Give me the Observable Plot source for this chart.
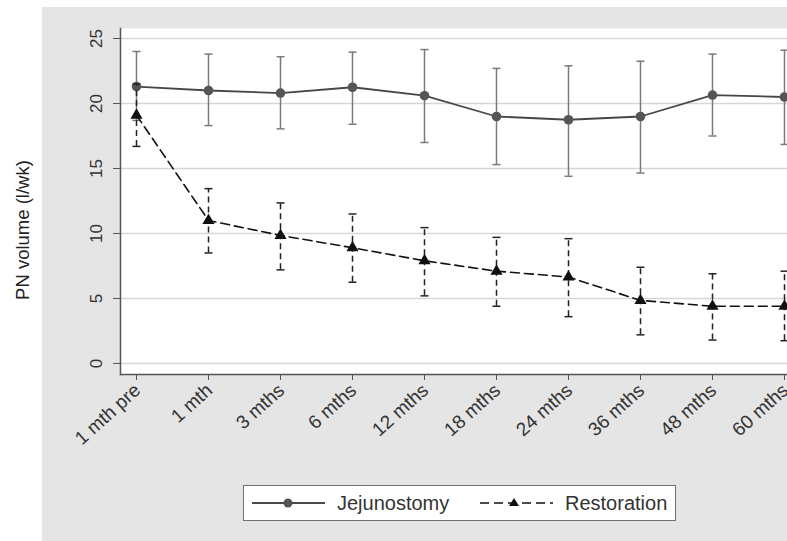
<!DOCTYPE html>
<html><head><meta charset="utf-8">
<script src="https://cdn.jsdelivr.net/npm/d3@7"></script>
<script src="https://cdn.jsdelivr.net/npm/@observablehq/plot@0.6"></script>
<style>
body{margin:0;background:#fff;font-family:"Liberation Sans",Arial,sans-serif;}
#wrap{position:relative;width:787px;height:541px;overflow:hidden;}
#bg{position:absolute;left:42px;top:7px;right:0;bottom:0;background:#e5e5e5;}
#chart{position:absolute;left:0;top:0;}
#ytitle{position:absolute;left:23px;top:230px;transform:translate(-50%,-50%) rotate(-90deg);font-size:18.5px;color:#222;white-space:nowrap;line-height:1;}
#legend{position:absolute;left:243px;top:485px;width:431px;height:34px;background:#fff;border:1.5px solid #707070;}
#legend span{position:absolute;top:0;line-height:34px;font-size:20px;color:#333;white-space:nowrap;}
#legend svg{position:absolute;left:0;top:0;}
</style></head>
<body>
<div id="wrap"><div id="bg"></div><div id="chart"></div>
<div id="ytitle"></div>
<div id="legend">
<svg width="431" height="34">
<line x1="8" x2="81" y1="17" y2="17" stroke="#4a4a4a" stroke-width="1.8"/>
<circle cx="44" cy="17" r="4.5" fill="#555"/>
<line x1="236" x2="309" y1="17" y2="17" stroke="#111" stroke-width="1.6" stroke-dasharray="9,5"/>
<path d="M270,12 L275,20 L265,20 Z" fill="#111"/>
</svg>
<span id="l1" style="left:93px">Jejunostomy</span>
<span id="l2" style="left:321px">Restoration</span>
</div>
</div>
<script>
const timepoints = ["1 mth pre","1 mth","3 mths","6 mths","12 mths","18 mths","24 mths","36 mths","48 mths","60 mths"];
const jejMean  = [21.3, 21.0, 20.8, 21.25, 20.6, 19.0, 18.75, 19.0, 20.65, 20.5];
const jejLower = [18.7, 18.3, 18.05, 18.4, 17.0, 15.3, 14.4, 14.65, 17.5, 16.85];
const jejUpper = [24.0, 23.8, 23.6, 23.95, 24.15, 22.7, 22.9, 23.25, 23.8, 24.1];
const resMean  = [19.1, 11.0, 9.85, 8.9, 7.9, 7.1, 6.65, 4.85, 4.4, 4.4];
const resLower = [16.7, 8.5, 7.2, 6.25, 5.2, 4.4, 3.6, 2.2, 1.8, 1.75];
const resUpper = [21.5, 13.45, 12.35, 11.5, 10.45, 9.7, 9.6, 7.4, 6.9, 7.1];
const yTicks = [0, 5, 10, 15, 20, 25];
const yTitle = "PN volume (l/wk)";
const seriesNames = ["Jejunostomy", "Restoration"];

document.getElementById("ytitle").textContent = yTitle;
document.getElementById("l1").textContent = seriesNames[0];
document.getElementById("l2").textContent = seriesNames[1];

const jej = timepoints.map((t, i) => ({t, m: jejMean[i], lo: jejLower[i], hi: jejUpper[i]}));
const res = timepoints.map((t, i) => ({t, m: resMean[i], lo: resLower[i], hi: resUpper[i]}));

const cap = {draw(ctx, size) { const w = Math.sqrt(size / Math.PI); ctx.moveTo(-w, 0); ctx.lineTo(w, 0); }};
const font = "Liberation Sans, Arial, sans-serif";

const chart = Plot.plot({
  width: 787, height: 541,
  marginLeft: 120, marginRight: 0, marginTop: 28, marginBottom: 167,
  style: {background: "transparent", fontFamily: font},
  x: {type: "point", domain: timepoints, padding: 0, range: [132, 787], label: null},
  y: {domain: [-0.85, 25.77], label: null},
  marks: [
    Plot.frame({fill: "white", stroke: null}),
    Plot.gridY(yTicks, {stroke: "#d6d6d6", strokeOpacity: 1, strokeWidth: 1.5}),
    Plot.frame({anchor: "left", stroke: "#555", strokeWidth: 1.5}),
    Plot.frame({anchor: "bottom", stroke: "#555", strokeWidth: 1.5}),
    Plot.axisY({ticks: yTicks, tickSize: 7, tickPadding: 12, tickRotate: -90, fontSize: 17, stroke: "#555", fill: "#333", label: null}),
    Plot.axisX({tickSize: 6, text: null, stroke: "#555", label: null}),
    Plot.text(timepoints, {x: d => d, frameAnchor: "bottom", dy: 13, dx: 1, rotate: -42, textAnchor: "end", lineAnchor: "middle", fontSize: 19, fill: "#333"}),
    // Jejunostomy
    Plot.ruleX(jej, {x: "t", y1: "lo", y2: "hi", stroke: "#7a7a7a", strokeWidth: 1.5}),
    Plot.dot(jej, {x: "t", y: "lo", symbol: cap, r: 4, fill: "none", stroke: "#7a7a7a", strokeWidth: 1.5}),
    Plot.dot(jej, {x: "t", y: "hi", symbol: cap, r: 4, fill: "none", stroke: "#7a7a7a", strokeWidth: 1.5}),
    Plot.line(jej, {x: "t", y: "m", stroke: "#474747", strokeWidth: 1.8}),
    Plot.dot(jej, {x: "t", y: "m", r: 4.8, fill: "#555", stroke: null}),
    // Restoration
    Plot.ruleX(res, {x: "t", y1: "lo", y2: "hi", stroke: "#222", strokeWidth: 1.5, strokeDasharray: "6,4"}),
    Plot.dot(res, {x: "t", y: "lo", symbol: cap, r: 4, fill: "none", stroke: "#222", strokeWidth: 1.5}),
    Plot.dot(res, {x: "t", y: "hi", symbol: cap, r: 4, fill: "none", stroke: "#222", strokeWidth: 1.5}),
    Plot.line(res, {x: "t", y: "m", stroke: "#111", strokeWidth: 1.6, strokeDasharray: "9,5"}),
    Plot.dot(res, {x: "t", y: "m", symbol: "triangle", r: 4.5, fill: "#111", stroke: null})
  ]
});
document.getElementById("chart").appendChild(chart);
</script>
</body></html>
